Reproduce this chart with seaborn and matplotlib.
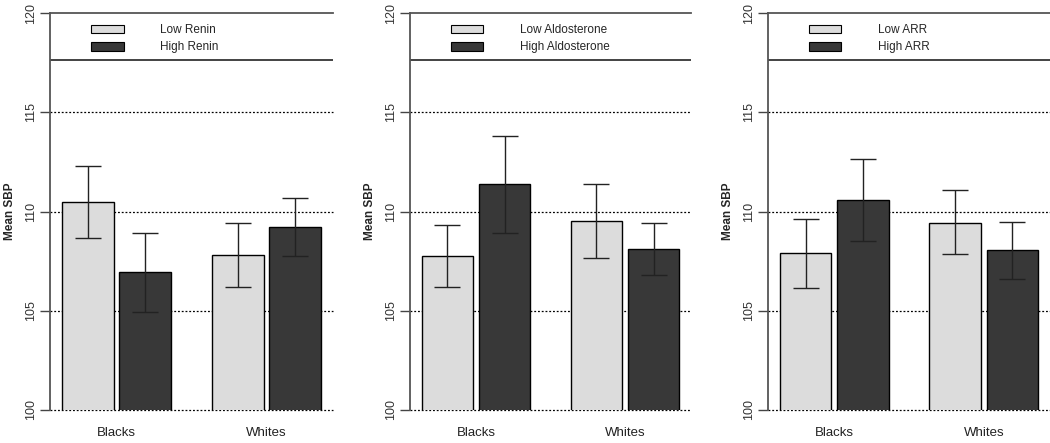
import numpy as np
import pandas as pd
import matplotlib
matplotlib.use("Agg")
import matplotlib.pyplot as plt
import seaborn as sns
from matplotlib.patches import Patch

groups = ["Blacks", "Whites"]
levels = ["Low", "High"]
markers = ["Renin", "Aldosterone", "ARR"]

# mean SBP per panel: [Low Blacks, High Blacks, Low Whites, High Whites]
renin_mean = [110.5, 106.94, 107.81, 109.23]
renin_lo = [108.68, 104.92, 106.18, 107.77]
renin_hi = [112.29, 108.93, 109.40, 110.68]

aldo_mean = [107.76, 111.40, 109.52, 108.13]
aldo_lo = [106.18, 108.93, 107.66, 106.79]
aldo_hi = [109.32, 113.82, 111.37, 109.40]

arr_mean = [107.89, 110.60, 109.44, 108.06]
arr_lo = [106.15, 108.53, 107.84, 106.61]
arr_hi = [109.62, 112.63, 111.07, 109.49]

panels = [
    ("Renin", renin_mean, renin_lo, renin_hi),
    ("Aldosterone", aldo_mean, aldo_lo, aldo_hi),
    ("ARR", arr_mean, arr_lo, arr_hi),
]

LIGHT = "#dcdcdc"
DARK = "#383838"

sns.set_theme(style="white")
plt.rcParams["font.family"] = ["Liberation Sans", "DejaVu Sans"]

fig = plt.figure(figsize=(10.5, 4.43), dpi=100)
W, H = 1050, 443
boxes = [(50, 333), (410, 691), (768, 1050)]
top_px, bot_px = 13, 410

for (name, mean, lo, hi), (x0, x1) in zip(panels, boxes):
    ax = fig.add_axes([x0 / W, 1 - bot_px / H, (x1 - x0) / W, (bot_px - top_px) / H])
    df = pd.DataFrame({
        "group": [g for g in groups for _ in levels],
        "level": [f"{l} {name}" for _ in groups for l in levels],
        "mean": mean,
        "lo": lo,
        "hi": hi,
    })
    sns.barplot(data=df, x="group", y="mean", hue="level",
                palette=[LIGHT, DARK], width=0.767, gap=0.096,
                edgecolor="black", linewidth=1.0, errorbar=None,
                legend=False, ax=ax)
    # error bars on each bar center
    for cont, lvl in zip(ax.containers, levels):
        sub = df[df["level"] == f"{lvl} {name}"]
        xs = [b.get_x() + b.get_width() / 2 for b in cont]
        ys = sub["mean"].to_numpy()
        yerr = np.vstack([ys - sub["lo"].to_numpy(), sub["hi"].to_numpy() - ys])
        ax.errorbar(xs, ys, yerr=yerr, fmt="none", ecolor="#222222",
                    elinewidth=1.0, capsize=9.5, capthick=1.0, zorder=5)

    ax.set_ylim(100, 120)
    ax.set_xlim(-0.443, 1.443)
    ax.set_yticks([100, 105, 110, 115, 120])
    ax.set_yticklabels(["100", "105", "110", "115", "120"], rotation=90,
                       va="center", fontsize=9, color="#333333")
    ax.tick_params(axis="y", left=True, length=7, width=1, color="#444444", pad=2)
    ax.tick_params(axis="x", bottom=False, labelsize=9.5, pad=6, colors="#222222")
    ax.set_xlabel("")
    ax.set_ylabel("Mean SBP", fontsize=8.5, fontweight="bold", labelpad=7)

    for yv in [100, 105, 110, 115]:
        ax.axhline(yv, color="black", linestyle=(0, (1.5, 1.5)), lw=0.9,
                   zorder=0, clip_on=False)
    ax.axhline(117.63, color="#222222", lw=1.2, zorder=1)

    for s in ["right", "bottom"]:
        ax.spines[s].set_visible(False)
    for s in ["left", "top"]:
        ax.spines[s].set_color("#555555")
        ax.spines[s].set_linewidth(1.3)

    handles = [Patch(facecolor=LIGHT, edgecolor="black", lw=0.8),
               Patch(facecolor=DARK, edgecolor="black", lw=0.8)]
    ax.legend(handles, [f"Low {name}", f"High {name}"], loc="upper left",
              bbox_to_anchor=(0.12, 0.99), frameon=False, fontsize=8.5,
              handlelength=2.75, handleheight=0.75, handletextpad=3.1,
              labelspacing=0.45, borderaxespad=0.2)

fig.savefig("out.png", dpi=100)
